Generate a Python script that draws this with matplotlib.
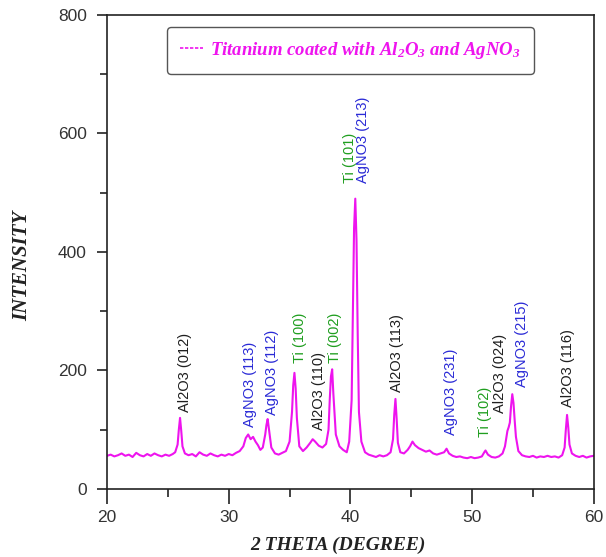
import matplotlib.pyplot as plt
from matplotlib.lines import Line2D

# XRD pattern (2 theta in degree, intensity)
two_theta = [20.0, 20.3, 20.6, 20.9, 21.2, 21.5, 21.8, 22.1, 22.4, 22.7, 23.0, 23.3, 23.6, 23.9,
             24.2, 24.5, 24.8, 25.1, 25.4, 25.6, 25.8, 25.9, 26.0, 26.1, 26.2, 26.4, 26.7, 27.0,
             27.3, 27.6, 27.9, 28.2, 28.5, 28.8, 29.1, 29.4, 29.7, 30.0, 30.3, 30.6, 30.9, 31.2,
             31.4, 31.6, 31.8, 32.0, 32.2, 32.4, 32.6, 32.8, 33.0, 33.1, 33.2, 33.3, 33.5, 33.8,
             34.1, 34.4, 34.7, 35.0, 35.2, 35.3, 35.4, 35.5, 35.6, 35.8, 36.1, 36.4, 36.7, 36.9,
             37.1, 37.4, 37.7, 38.0, 38.2, 38.3, 38.4, 38.5, 38.6, 38.8, 39.1, 39.4, 39.7, 39.9,
             40.1, 40.2, 40.3, 40.4, 40.5, 40.6, 40.7, 40.9, 41.2, 41.5, 41.8, 42.1, 42.4, 42.7,
             43.0, 43.3, 43.5, 43.6, 43.7, 43.8, 43.9, 44.1, 44.4, 44.7, 44.9, 45.1, 45.3, 45.6,
             45.9, 46.2, 46.5, 46.8, 47.1, 47.4, 47.7, 47.9, 48.1, 48.4, 48.7, 49.0, 49.3, 49.6,
             49.9, 50.2, 50.5, 50.8, 51.0, 51.1, 51.3, 51.6, 51.9, 52.2, 52.5, 52.7, 52.9, 53.0,
             53.1, 53.2, 53.3, 53.4, 53.5, 53.6, 53.8, 54.1, 54.4, 54.7, 55.0, 55.3, 55.6, 55.9,
             56.2, 56.5, 56.8, 57.1, 57.4, 57.6, 57.7, 57.8, 57.9, 58.0, 58.2, 58.5, 58.8, 59.1,
             59.4, 59.7, 60.0]
intensity = [56, 58, 55, 57, 60, 56, 58, 54, 61, 57, 55, 59, 56, 60,
             57, 55, 58, 56, 59, 62, 75, 100, 120, 98, 72, 60, 57, 59,
             55, 62, 58, 56, 60, 57, 55, 58, 56, 59, 57, 61, 64, 72,
             86, 92, 84, 88, 80, 74, 66, 70, 92, 108, 118, 102, 70, 60,
             58, 61, 64, 80, 130, 175, 196, 170, 120, 72, 64, 70, 78, 84,
             80, 73, 70, 76, 100, 150, 190, 202, 160, 92, 72, 66, 62, 80,
             150, 300, 440, 490, 420, 260, 130, 80, 62, 58, 56, 54, 57, 55,
             57, 62, 84, 125, 152, 118, 78, 62, 60, 66, 72, 80, 74, 69,
             66, 63, 65, 60, 58, 60, 62, 68, 60, 56, 54, 55, 53, 52,
             54, 52, 53, 55, 62, 65, 58, 54, 53, 55, 60, 72, 98, 104,
             112, 140, 160, 145, 115, 88, 64, 57, 55, 54, 56, 53, 55, 54,
             56, 54, 55, 53, 57, 70, 100, 125, 104, 75, 60, 56, 54, 56,
             53, 55, 56]

# peak labels
label_text = ['Al2O3 (012)', 'AgNO3 (113)', 'AgNO3 (112)', 'Ti (100)', 'Al2O3 (110)', 'Ti (002)',
              'Ti (101)', 'AgNO3 (213)', 'Al2O3 (113)', 'AgNO3 (231)', 'Ti (102)', 'Al2O3 (024)',
              'AgNO3 (215)', 'Al2O3 (116)']
label_x = [26.4, 31.75, 33.55, 35.85, 37.4, 38.7, 39.95, 41.0, 43.8, 48.3, 51.05, 52.3, 54.1, 57.85]
label_y = [130, 105, 125, 213, 100, 213, 516, 516, 164, 91, 88, 128, 172, 138]
label_kind = ['Al', 'Ag', 'Ag', 'Ti', 'Al', 'Ti', 'Ti', 'Ag', 'Al', 'Ag', 'Ti', 'Al', 'Ag', 'Al']
kind_color = {'Al': '#1e1e1e', 'Ag': '#2a2ad6', 'Ti': '#1f9e1f'}

line_color = '#ee14ee'

fig = plt.figure(figsize=(6.06, 5.57), dpi=100)
ax = fig.add_axes([0.1766, 0.1221, 0.8033, 0.8510])

ax.plot(two_theta, intensity, color=line_color, lw=1.5)

for t, x, y, k in zip(label_text, label_x, label_y, label_kind):
    ax.text(x, y, t, rotation=90, ha='center', va='bottom', fontsize=10.5,
            family='Liberation Sans', color=kind_color[k])

ax.set_xlim(20, 60)
ax.set_ylim(0, 800)
ax.set_xticks([20, 30, 40, 50, 60])
ax.set_xticks([25, 35, 45, 55], minor=True)
ax.set_yticks([0, 200, 400, 600, 800])
ax.set_yticks([100, 300, 500, 700], minor=True)

for s in ax.spines.values():
    s.set_linewidth(1.2)
    s.set_color('#222222')
ax.tick_params(axis='x', which='major', direction='out', length=11, width=1.2, pad=4,
               labelsize=12.5, labelcolor='#333333', color='#222222')
ax.tick_params(axis='x', which='minor', direction='out', length=5.5, width=1.2, color='#222222')
ax.tick_params(axis='y', which='major', direction='out', length=7.5, width=1.2, pad=7,
               labelsize=12.5, labelcolor='#333333', color='#222222')
ax.tick_params(axis='y', which='minor', direction='out', length=5, width=1.2, color='#222222')
for lab in ax.get_xticklabels() + ax.get_yticklabels():
    lab.set_family('Liberation Sans')

ax.set_xlabel('2 THETA (DEGREE)', family='Liberation Serif', style='italic', weight='bold',
              fontsize=14, color='#222222')
ax.xaxis.set_label_coords(0.475, -0.100)
ax.set_ylabel('INTENSITY', family='Liberation Serif', style='italic', weight='bold',
              fontsize=15, color='#222222')
ax.yaxis.set_label_coords(-0.153, 0.47)

plt.rcParams['mathtext.default'] = 'regular'
handle = Line2D([], [], color=line_color, lw=1.2, ls=(0, (2, 1)))
leg = ax.legend([handle], ['Titanium coated with Al$_2$O$_3$ and AgNO$_3$'],
                loc='upper center', bbox_to_anchor=(0.5, 0.975), fancybox=True,
                handlelength=1.2, handletextpad=0.4, borderpad=0.7, borderaxespad=0,
                labelcolor=line_color,
                prop={'family': 'Liberation Serif', 'style': 'italic', 'weight': 'bold', 'size': 13.5})
leg.get_frame().set_edgecolor('#555555')
leg.get_frame().set_linewidth(1.0)
leg.get_frame().set_alpha(1)

fig.savefig('out.png', dpi=100)
